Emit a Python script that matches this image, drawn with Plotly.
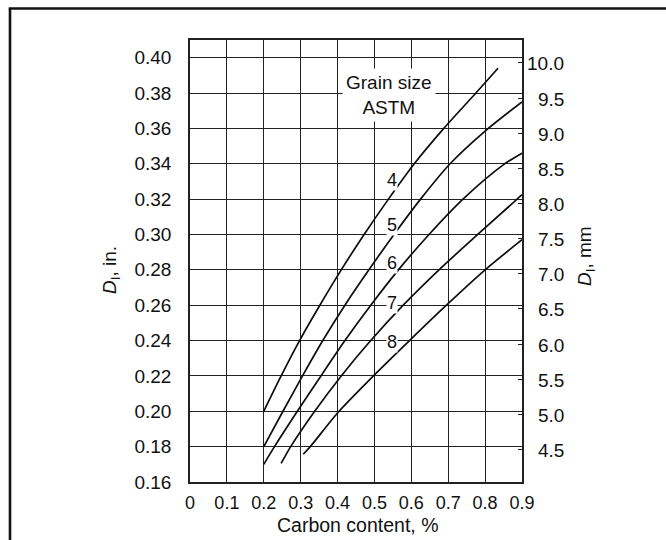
import plotly.graph_objects as go

# Axis ticks
carbon_ticks = [0, 0.1, 0.2, 0.3, 0.4, 0.5, 0.6, 0.7, 0.8, 0.9]
carbon_labels = ["0", "0.1", "0.2", "0.3", "0.4", "0.5", "0.6", "0.7", "0.8", "0.9"]
di_in_ticks = [0.16, 0.18, 0.20, 0.22, 0.24, 0.26, 0.28, 0.30, 0.32, 0.34, 0.36, 0.38, 0.40]
di_in_labels = ["0.16", "0.18", "0.20", "0.22", "0.24", "0.26", "0.28", "0.30",
                "0.32", "0.34", "0.36", "0.38", "0.40"]
di_mm_ticks = [4.5, 5.0, 5.5, 6.0, 6.5, 7.0, 7.5, 8.0, 8.5, 9.0, 9.5, 10.0]
di_mm_labels = ["4.5", "5.0", "5.5", "6.0", "6.5", "7.0", "7.5", "8.0", "8.5", "9.0", "9.5", "10.0"]

# Ideal critical diameter (in.) vs carbon content (%) for ASTM grain sizes
grain_sizes = ["4", "5", "6", "7", "8"]
carbon_g4 = [0.20, 0.247, 0.297, 0.352, 0.41, 0.472, 0.538, 0.608, 0.688, 0.775, 0.835]
di_g4 = [0.200, 0.220, 0.240, 0.260, 0.280, 0.300, 0.320, 0.340, 0.360, 0.380, 0.394]
carbon_g5 = [0.20, 0.252, 0.305, 0.36, 0.42, 0.485, 0.553, 0.625, 0.705, 0.80, 0.90]
di_g5 = [0.180, 0.200, 0.220, 0.240, 0.260, 0.280, 0.300, 0.320, 0.340, 0.3585, 0.375]
carbon_g6 = [0.20, 0.229, 0.291, 0.355, 0.42, 0.49, 0.565, 0.648, 0.74, 0.85, 0.90]
di_g6 = [0.170, 0.180, 0.200, 0.220, 0.240, 0.260, 0.280, 0.300, 0.320, 0.3395, 0.346]
carbon_g7 = [0.247, 0.273, 0.338, 0.41, 0.49, 0.578, 0.675, 0.78, 0.90]
di_g7 = [0.1705, 0.180, 0.200, 0.220, 0.240, 0.260, 0.280, 0.300, 0.3225]
carbon_g8 = [0.307, 0.326, 0.404, 0.497, 0.595, 0.695, 0.80, 0.90]
di_g8 = [0.1757, 0.180, 0.200, 0.220, 0.240, 0.260, 0.280, 0.297]

curves = [
    (carbon_g4, di_g4),
    (carbon_g5, di_g5),
    (carbon_g6, di_g6),
    (carbon_g7, di_g7),
    (carbon_g8, di_g8),
]

# Where each grain-size number sits on the chart
label_carbon = 0.547
label_di = [0.3308, 0.3054, 0.284, 0.2614, 0.2394]

FONT = "Liberation Sans, Arial, Helvetica, sans-serif"
INK = "#111111"
GRID = "#222222"

W, H = 666, 540
ML, MR, MT, MB = 190, 144, 40, 58
PW, PH = W - ML - MR, H - MT - MB


def px_x(x):
    return (x - ML) / PW


def px_y(y):
    return (H - MB - y) / PH


fig = go.Figure()

for (cx, dy), g in zip(curves, grain_sizes):
    fig.add_trace(go.Scatter(
        x=cx, y=dy, mode="lines", name=g,
        line=dict(color="#0d0d0d", width=1.7, shape="spline", smoothing=0.8),
        showlegend=False, hoverinfo="skip",
    ))

# carrier trace for the millimetre axis
fig.add_trace(go.Scatter(x=[None], y=[None], yaxis="y2", showlegend=False, hoverinfo="skip"))

annotations = []

# Grain size numbers
for g, yv in zip(grain_sizes, label_di):
    annotations.append(dict(
        x=label_carbon, y=yv, xref="x", yref="y", text=g, showarrow=False,
        font=dict(family=FONT, size=18, color=INK), bgcolor="white", borderpad=0,
        xanchor="center", yanchor="middle",
    ))

annotations.append(dict(
    x=0.539, y=0.3787, xref="x", yref="y", text="Grain size<br>ASTM", showarrow=False,
    font=dict(family=FONT, size=19, color=INK), bgcolor="white", borderpad=3,
    xanchor="center", yanchor="middle", align="center",
))

# Millimetre tick labels, right-aligned
for v, t in zip(di_mm_ticks, di_mm_labels):
    annotations.append(dict(
        x=px_x(566), y=v, xref="paper", yref="y2", text=t, showarrow=False,
        font=dict(family=FONT, size=19, color=INK), xanchor="right", yanchor="middle",
        yshift=-1,
    ))

# Axis titles
annotations.append(dict(
    x=px_x(358), y=px_y(525), xref="paper", yref="paper", text="Carbon content, %",
    showarrow=False, font=dict(family=FONT, size=19.5, color=INK),
    xanchor="center", yanchor="middle",
))
annotations.append(dict(
    x=px_x(111), y=px_y(270), xref="paper", yref="paper", text="<i>D</i><sub>I</sub>, in.",
    showarrow=False, textangle=-90, font=dict(family=FONT, size=19, color=INK),
    xanchor="center", yanchor="middle",
))
annotations.append(dict(
    x=px_x(586), y=px_y(256), xref="paper", yref="paper", text="<i>D</i><sub>I</sub>, mm",
    showarrow=False, textangle=-90, font=dict(family=FONT, size=19, color=INK),
    xanchor="center", yanchor="middle",
))

# Outer frame (left and top edges)
shapes = [
    dict(type="line", xref="paper", yref="paper",
         x0=px_x(10), x1=px_x(10), y0=px_y(8.5), y1=px_y(545),
         line=dict(color="#111111", width=2.6)),
    dict(type="line", xref="paper", yref="paper",
         x0=px_x(8.7), x1=px_x(670), y0=px_y(8.5), y1=px_y(8.5),
         line=dict(color="#111111", width=2.6)),
]

fig.update_layout(
    width=W, height=H,
    margin=dict(l=ML, r=MR, t=MT, b=MB),
    paper_bgcolor="white", plot_bgcolor="white",
    font=dict(family=FONT, size=18, color=INK),
    xaxis=dict(
        range=[0, 0.9], tickvals=carbon_ticks, ticktext=carbon_labels,
        showgrid=True, gridcolor=GRID, gridwidth=1.4, zeroline=False,
        showline=True, linecolor=GRID, linewidth=1.6, mirror=True,
        ticks="", ticklabelstandoff=4,
        tickfont=dict(family=FONT, size=18, color=INK),
    ),
    yaxis=dict(
        range=[0.16, 0.41], tickvals=di_in_ticks, ticktext=di_in_labels,
        showgrid=True, gridcolor=GRID, gridwidth=1.4, zeroline=False,
        showline=True, linecolor=GRID, linewidth=1.6, mirror=True,
        ticks="", ticklabelstandoff=13,
        tickfont=dict(family=FONT, size=19, color=INK),
    ),
    yaxis2=dict(
        overlaying="y", side="right", range=[4.038, 10.327],
        tickvals=di_mm_ticks, showticklabels=False,
        ticks="inside", ticklen=4, tickwidth=1.4, tickcolor=GRID,
        showgrid=False, zeroline=False, showline=False,
    ),
    annotations=annotations,
    shapes=shapes,
)

fig.write_html("out.html")
